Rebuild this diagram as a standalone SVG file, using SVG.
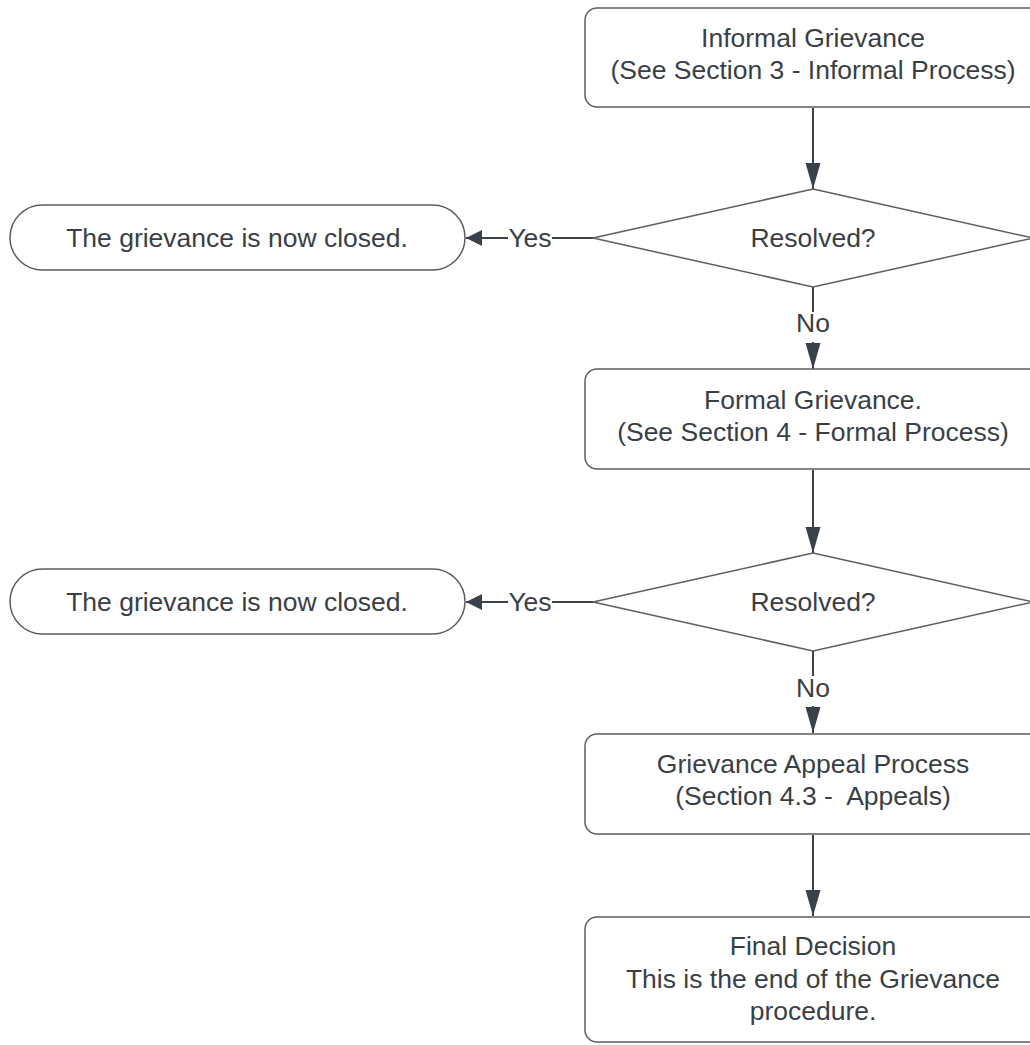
<svg xmlns="http://www.w3.org/2000/svg" width="1030" height="1045" viewBox="0 0 1030 1045">
<defs>
<style>
.shape{fill:#ffffff;stroke:#5e5e5e;stroke-width:1.5}
.conn{fill:none;stroke:#3a414a;stroke-width:2}
.t{font-family:"Liberation Sans",Arial,sans-serif;font-size:26.5px;fill:#3a3f46;text-anchor:middle;white-space:pre}
</style>
<marker id="ah" viewBox="0 0 16 24" refX="16" refY="12" markerWidth="16" markerHeight="24" markerUnits="userSpaceOnUse" orient="auto">
<path d="M0,4 L16,12 L0,20 Z" fill="#3a414a"/>
</marker>
<marker id="ahd" viewBox="0 0 26 16" refX="26" refY="8" markerWidth="26" markerHeight="16" markerUnits="userSpaceOnUse" orient="auto">
<path d="M0,0.5 L26,8 L0,15.5 Z" fill="#3a414a"/>
</marker>
</defs>
<rect width="1030" height="1045" fill="#ffffff"/>
<g id="connectors">
<line class="conn" x1="813" y1="108" x2="813" y2="189" marker-end="url(#ahd)"/>
<line class="conn" x1="593" y1="238" x2="552" y2="238"/>
<line class="conn" x1="508" y1="238" x2="466" y2="238" marker-end="url(#ah)"/>
<text class="t" x="530" y="247">Yes</text>
<line class="conn" x1="813" y1="287" x2="813" y2="312"/>
<text class="t" x="813" y="332">No</text>
<line class="conn" x1="813" y1="342" x2="813" y2="369" marker-end="url(#ahd)"/>
<line class="conn" x1="813" y1="470" x2="813" y2="553" marker-end="url(#ahd)"/>
<line class="conn" x1="593" y1="602" x2="552" y2="602"/>
<line class="conn" x1="508" y1="602" x2="466" y2="602" marker-end="url(#ah)"/>
<text class="t" x="530" y="611">Yes</text>
<line class="conn" x1="813" y1="651" x2="813" y2="676"/>
<text class="t" x="813" y="697">No</text>
<line class="conn" x1="813" y1="706" x2="813" y2="733" marker-end="url(#ahd)"/>
<line class="conn" x1="813" y1="835" x2="813" y2="916" marker-end="url(#ahd)"/>
</g>
<g id="informal">
<rect class="shape" x="585" y="8" width="456" height="99" rx="12"/>
<text class="t" x="813" y="47">Informal Grievance</text>
<text class="t" x="813" y="79">(See Section 3 - Informal Process)</text>
</g>
<g id="resolved1">
<polygon class="shape" points="813,189 1033,238 813,287 593,238"/>
<text class="t" x="813" y="247">Resolved?</text>
</g>
<g id="closed1">
<rect class="shape" x="10" y="205" width="455" height="65" rx="32.5"/>
<text class="t" x="237" y="247">The grievance is now closed.</text>
</g>
<g id="formal">
<rect class="shape" x="585" y="369" width="456" height="100" rx="12"/>
<text class="t" x="813" y="409">Formal Grievance.</text>
<text class="t" x="813" y="441">(See Section 4 - Formal Process)</text>
</g>
<g id="resolved2">
<polygon class="shape" points="813,553 1033,602 813,651 593,602"/>
<text class="t" x="813" y="611">Resolved?</text>
</g>
<g id="closed2">
<rect class="shape" x="10" y="569" width="455" height="65" rx="32.5"/>
<text class="t" x="237" y="611">The grievance is now closed.</text>
</g>
<g id="appeal">
<rect class="shape" x="585" y="734" width="456" height="100" rx="12"/>
<text class="t" x="813" y="773">Grievance Appeal Process</text>
<text class="t" x="813" y="805">(Section 4.3 -  Appeals)</text>
</g>
<g id="final">
<rect class="shape" x="585" y="917" width="456" height="125" rx="12"/>
<text class="t" x="813" y="955">Final Decision</text>
<text class="t" x="813" y="988">This is the end of the Grievance</text>
<text class="t" x="813" y="1020">procedure.</text>
</g>
</svg>
